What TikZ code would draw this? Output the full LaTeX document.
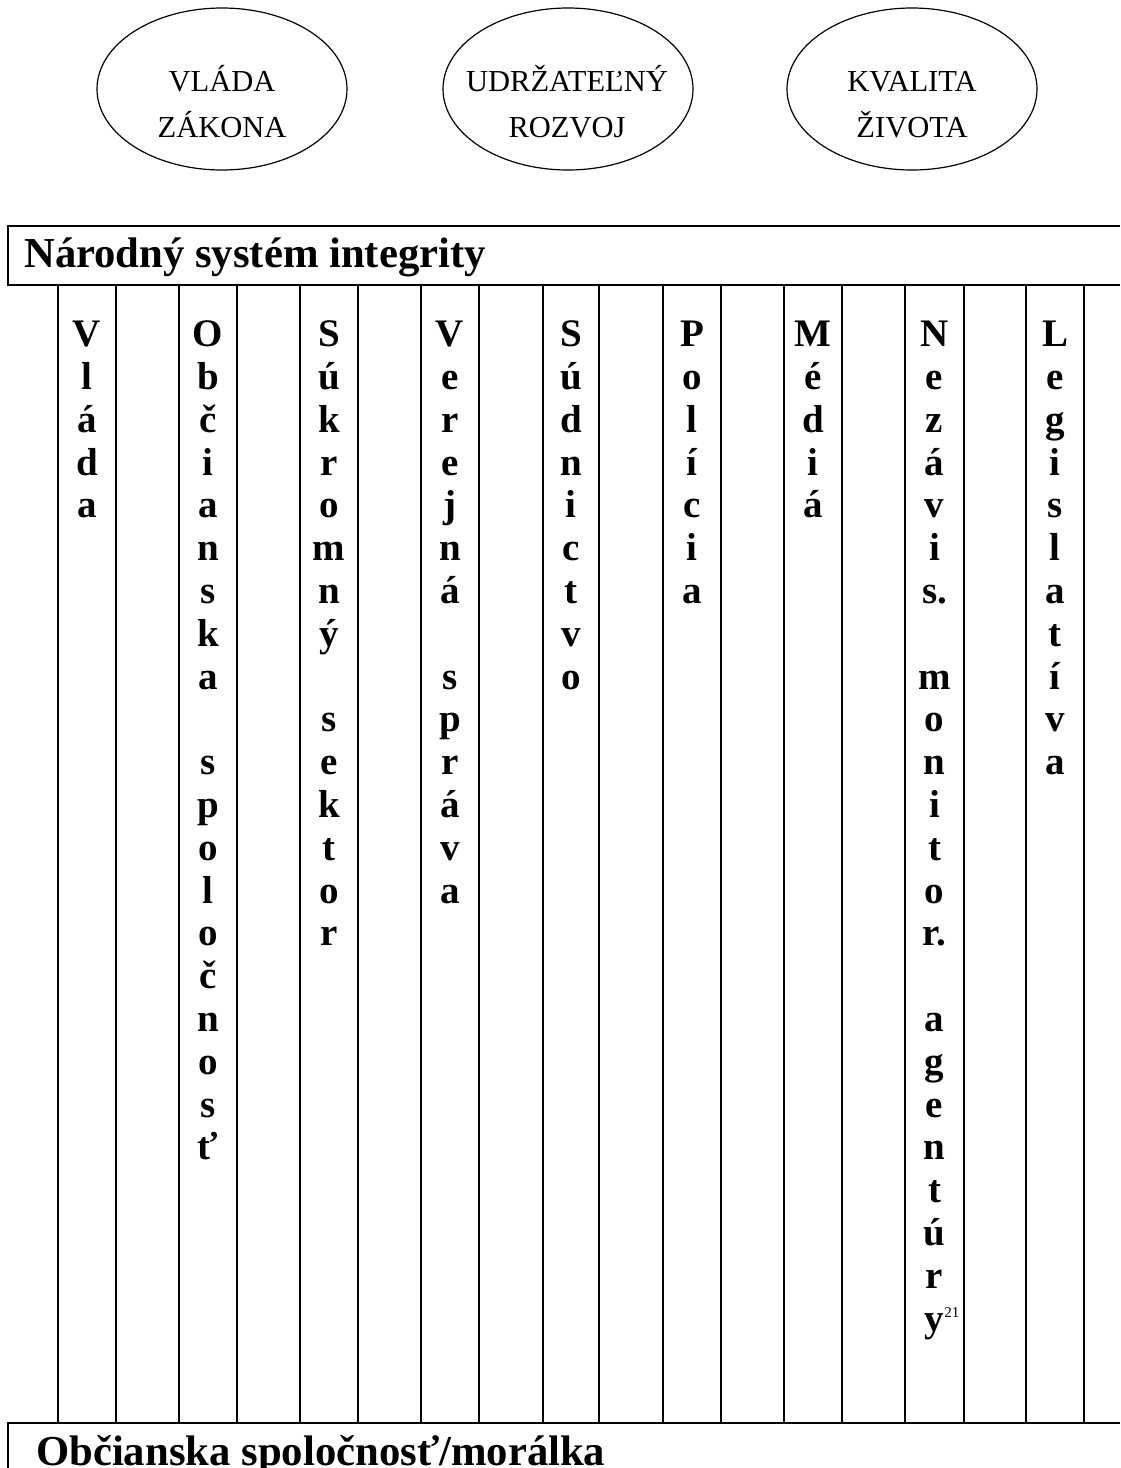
\documentclass[tikz,border=0pt]{standalone}
\usepackage{fontspec}
\setmainfont{Liberation Serif}
\usetikzlibrary{shapes.geometric}
\newcommand\colfont{\fontsize{39}{42.8}\selectfont\bfseries}
\newcommand\ovfont{\fontsize{30.5}{46}\selectfont}
\newcommand\hdfont{\fontsize{42.7}{48}\selectfont\bfseries}
\newcommand\vcoltext[1]{\parbox[t]{56pt}{\centering #1}}
\newcommand\ovtext[1]{\parbox[t]{240pt}{\centering #1}}
\begin{document}
\begin{tikzpicture}[x=1pt,y=-1pt,
  oval/.style={draw, line width=1.2pt, shape=ellipse, minimum width=250pt, minimum height=162pt, inner sep=0pt},
  ovlabel/.style={anchor=base, inner sep=0pt, font=\ovfont},
  colt/.style={anchor=base, inner sep=0pt, font=\colfont},
  hd/.style={anchor=base west, inner sep=0pt, font=\hdfont},
  boxline/.style={line width=2.6pt},
  colline/.style={line width=2pt}]
\useasboundingbox (0,0) rectangle (1120,1468);
% ovals
\node[oval] (e1) at (222,89) {};
\node[oval] (e2) at (568,89) {};
\node[oval] (e3) at (912,89) {};
\node[ovlabel] (t1) at (222,91) {\ovtext{VLÁDA\\ZÁKONA}};
\node[ovlabel] (t2) at (567,91) {\ovtext{UDRŽATEĽNÝ\\ROZVOJ}};
\node[ovlabel] (t3) at (912,91) {\ovtext{KVALITA\\ŽIVOTA}};
% header box
\draw[boxline] (1120,226) -- (8,226) -- (8,285) -- (1120,285);
\node[hd] (head) at (24,267) {Národný systém integrity};
% column lines
\foreach \x in {58,116,179,237,300,358,421,479,543,599,663,721,784,842,905,964,1026,1084}
  \draw[colline] (\x,285) -- (\x,1423);
% bottom box
\draw[boxline] (1120,1423) -- (8,1423) -- (8,1468);
\node[hd] (foot) at (36,1465) {Občianska spoločnosť/morálka};
% column texts
\node[colt] (c1) at (87,346.7) {\vcoltext{V\\l\\á\\d\\a}};
\node[colt] (c2) at (208,346.7) {\vcoltext{O\\b\\č\\i\\a\\n\\s\\k\\a\\\mbox{}\\s\\p\\o\\l\\o\\č\\n\\o\\s\\ť}};
\node[colt] (c3) at (329,346.7) {\vcoltext{S\\ú\\k\\r\\o\\m\\n\\ý\\\mbox{}\\s\\e\\k\\t\\o\\r}};
\node[colt] (c4) at (450,346.7) {\vcoltext{V\\e\\r\\e\\j\\n\\á\\\mbox{}\\s\\p\\r\\á\\v\\a}};
\node[colt] (c5) at (571,346.7) {\vcoltext{S\\ú\\d\\n\\i\\c\\t\\v\\o}};
\node[colt] (c6) at (692,346.7) {\vcoltext{P\\o\\l\\í\\c\\i\\a}};
\node[colt] (c7) at (813,346.7) {\vcoltext{M\\é\\d\\i\\á}};
\node[colt] (c8) at (934.5,346.7) {\vcoltext{N\\e\\z\\á\\v\\i\\s.\\\mbox{}\\m\\o\\n\\i\\t\\o\\r.\\\mbox{}\\a\\g\\e\\n\\t\\ú\\r\\y\rlap{\raisebox{14pt}{\mdseries\fontsize{15}{15}\selectfont 21}}}};
\node[colt] (c9) at (1055,346.7) {\vcoltext{L\\e\\g\\i\\s\\l\\a\\t\\í\\v\\a}};
\end{tikzpicture}
\end{document}
